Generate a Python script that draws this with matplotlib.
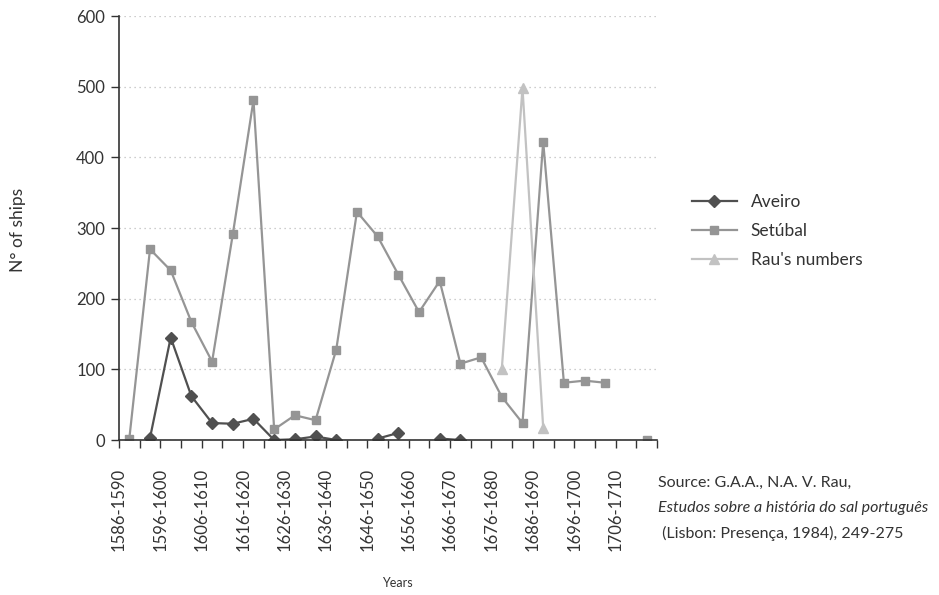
import matplotlib.pyplot as plt
import numpy as np

plt.rcParams['font.family'] = ['Lato', 'DejaVu Sans']

# 26 five-year periods, 1586-1590 ... 1711-1715
periods = [f"{y}-{y + 4}" for y in range(1586, 1716, 5)]
shown_labels = ["1586-1590", "1596-1600", "1606-1610", "1616-1620", "1626-1630",
                "1636-1640", "1646-1650", "1656-1660", "1666-1670", "1676-1680",
                "1686-1690", "1696-1700", "1706-1710"]

nan = np.nan
aveiro = [nan, 3, 145, 62, 24, 23, 30, 0, 1, 5, 0, nan, 2, 10, nan, 2, 0,
          nan, nan, nan, nan, nan, nan, nan, nan, nan]
setubal = [2, 270, 240, 167, 111, 291, 481, 15, 35, 28, 128, 323, 288, 234, 181,
           225, 108, 117, 61, 24, 422, 81, 84, 81, nan, 0]
rau = [nan] * 18 + [101, 498, 17] + [nan] * 5

fig = plt.figure(figsize=(9.39, 5.95), dpi=100)
ax = fig.add_axes([0.1267, 0.2605, 0.573, 0.7126])

x = np.arange(len(periods))
ax.plot(x, aveiro, color='#505050', lw=1.6, marker='D', ms=6.5, label='Aveiro')
ax.plot(x, setubal, color='#959595', lw=1.6, marker='s', ms=6, label='Setúbal')
ax.plot(x, rau, color='#c2c2c2', lw=1.6, marker='^', ms=7, label="Rau's numbers")

ax.set_xlim(-0.5, len(periods) - 0.5)
ax.set_ylim(0, 600)
ax.set_yticks(range(0, 601, 100))
ax.yaxis.grid(True, linestyle=(0, (1, 3)), color='#bdbdbd', lw=0.9)
ax.set_axisbelow(True)

ax.set_xticks(np.arange(-0.5, len(periods) - 2, 2))
ax.set_xticklabels(shown_labels, rotation=90)
ax.set_xticks(np.arange(-0.5, len(periods), 1), minor=True)
ax.tick_params(axis='x', which='both', length=6, width=1, color='#333333')
ax.tick_params(axis='x', which='major', pad=14, labelsize=12, labelcolor='#333333')
ax.tick_params(axis='y', length=6, width=1, color='#333333', labelsize=12,
               labelcolor='#333333', pad=4)

for s in ['top', 'right']:
    ax.spines[s].set_visible(False)
for s in ['left', 'bottom']:
    ax.spines[s].set_color('#333333')
    ax.spines[s].set_linewidth(1.2)

fig.text(18 / 939, 1 - 230 / 595, "N° of ships", rotation=90, fontsize=12.5,
         color='#333333', ha='center', va='center')
fig.text(397 / 939, 1 - 583 / 595, "Years", fontsize=9, color='#333333',
         ha='center', va='center')

fig.legend(loc='upper left', bbox_to_anchor=(676 / 939, 1 - 178 / 595),
           frameon=False, fontsize=12.5, handlelength=2.6, labelspacing=0.75,
           labelcolor='#333333')

fig.text(658 / 939, 1 - 483 / 595, "Source: G.A.A., N.A. V. Rau,", fontsize=11.5,
         color='#333333', va='center')
fig.text(658 / 939, 1 - 508 / 595, "Estudos sobre a história do sal português",
         fontsize=11.5, color='#333333', va='center', style='italic')
fig.text(658 / 939, 1 - 533 / 595, " (Lisbon: Presença, 1984), 249-275", fontsize=11.5,
         color='#333333', va='center')

fig.savefig("out.png", dpi=100)
